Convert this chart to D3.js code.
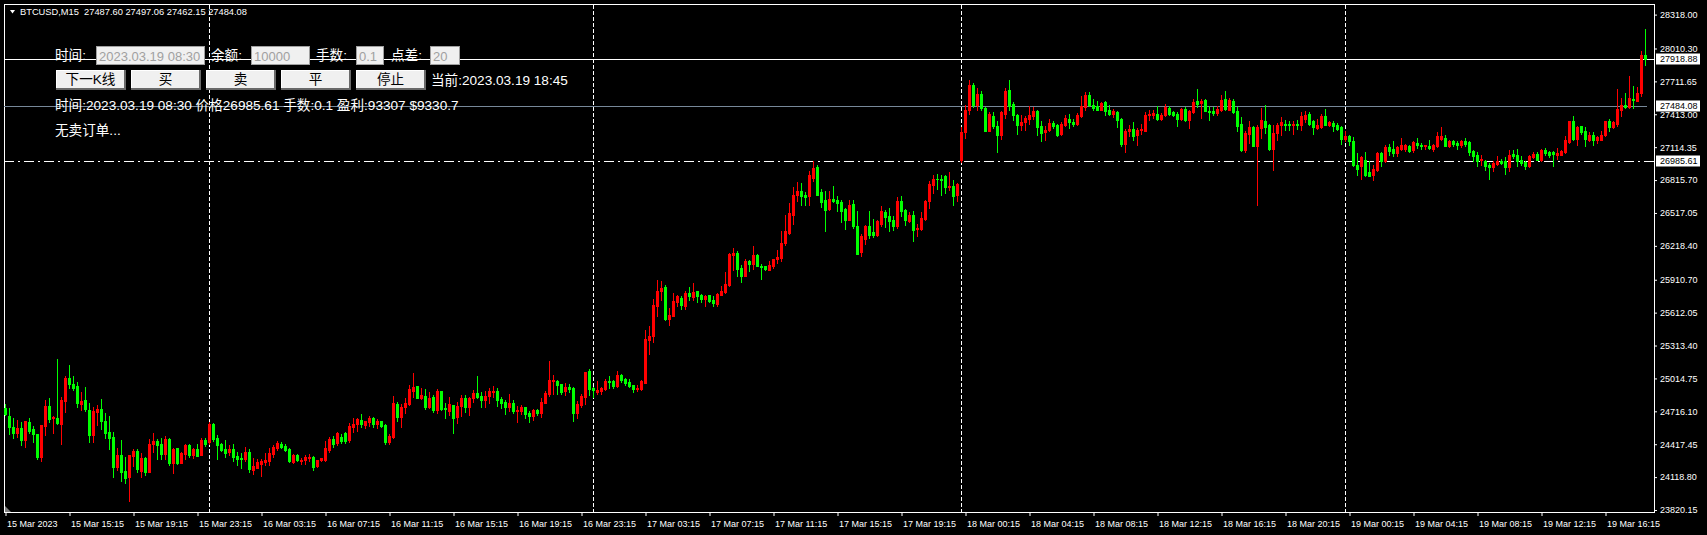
<!DOCTYPE html>
<html><head><meta charset="utf-8">
<script src="https://cdn.jsdelivr.net/npm/d3@7"></script>
<style>html,body{margin:0;padding:0;background:#000;overflow:hidden}svg{display:block}</style>
</head><body><svg id="c" width="1707" height="535"></svg>
<script>
// ---------- DATA ----------
const symbolHeader = "BTCUSD,M15  27487.60 27497.06 27462.15 27484.08";
const openP = [
24750,24674,24574,24523,24568,24456,24620,24556,24511,24305,
24586,24765,24656,24656,24605,24814,25020,24965,24947,24783,
24820,24729,24502,24714,24738,24629,24529,24483,24211,24320,
24175,24123,24311,24356,24178,24290,24168,24423,24447,24420,
24329,24465,24250,24381,24250,24332,24408,24320,24374,24320,
24456,24435,24602,24471,24423,24374,24347,24374,24311,24293,
24287,24347,24187,24202,24238,24253,24265,24329,24384,24420,
24402,24374,24256,24320,24265,24272,24296,24302,24220,24272,
24278,24365,24468,24430,24480,24523,24455,24571,24599,24638,
24592,24623,24656,24602,24626,24592,24440,24486,24783,24668,
24753,24783,24901,24947,24838,24856,24759,24847,24729,24901,
24750,24723,24774,24668,24762,24838,24759,24835,24883,24856,
24820,24856,24895,24904,24829,24804,24759,24795,24723,24723,
24753,24705,24674,24732,24705,24795,24874,24995,24992,24965,
24901,24941,24929,24705,24774,24850,25083,24926,24895,24901,
24920,24995,24995,24950,25047,25007,24986,24956,24917,24920,
24977,25365,25401,25668,25804,25849,25556,25583,25707,25746,
25674,25789,25756,25810,25768,25734,25768,25728,25692,25774,
25798,25865,26137,26155,26019,25949,26077,26058,26137,26037,
26031,26001,26031,26101,26107,26243,26334,26501,26676,26719,
26676,26667,26834,26931,26704,26631,26555,26646,26631,26613,
26552,26455,26600,26401,26167,26280,26401,26340,26319,26419,
26522,26491,26455,26395,26622,26540,26440,26501,26370,26370,
26464,26622,26773,26828,26828,26849,26752,26764,26676,27000,
27250,27450,27680,27500,27600,27470,27264,27400,27309,27228,
27418,27636,27509,27403,27318,27340,27373,27400,27446,27303,
27249,27273,27334,27318,27234,27318,27373,27340,27328,27400,
27476,27591,27500,27485,27455,27521,27455,27418,27431,27373,
27146,27258,27279,27222,27267,27264,27403,27403,27418,27370,
27403,27470,27431,27418,27373,27461,27364,27431,27530,27515,
27540,27446,27440,27425,27449,27555,27455,27537,27440,27328,
27091,27234,27294,27128,27288,27355,27312,27097,27243,27312,
27328,27328,27318,27328,27318,27373,27415,27349,27288,27297,
27400,27312,27334,27318,27297,27188,27212,27173,26955,26940,
27000,26885,26864,26903,27061,26985,27112,27097,27061,27100,
27100,27122,27091,27152,27137,27122,27128,27100,27122,27191,
27197,27128,27167,27152,27137,27167,27158,27076,27046,27000,
26991,26949,26931,26961,26991,26985,26931,27055,27046,27000,
26976,26940,27028,27055,27000,27091,27067,27067,27046,27046,
27067,27161,27355,27191,27303,27258,27182,27228,27176,27182,
27222,27349,27297,27325,27449,27500,27476,27552,27537,27606,
27955];
const highP = [
24783,24750,24656,24638,24617,24632,24656,24583,24514,24595,
24820,24838,24674,25192,24844,25038,25138,25041,24983,24895,
24938,24792,24759,24774,24829,24705,24674,24526,24383,24456,
24299,24323,24374,24371,24338,24302,24465,24520,24462,24471,
24496,24474,24381,24387,24350,24417,24417,24381,24420,24471,
24477,24623,24608,24502,24426,24453,24411,24417,24344,24341,
24393,24371,24290,24285,24287,24341,24381,24411,24447,24435,
24423,24387,24332,24329,24293,24320,24329,24311,24278,24296,
24450,24480,24490,24532,24511,24530,24608,24653,24653,24692,
24632,24674,24668,24644,24632,24602,24508,24856,24804,24780,
24835,24956,25068,24950,24926,24920,24895,24865,24917,24904,
24789,24847,24777,24804,24865,24865,24850,24910,25038,24895,
24901,24932,24947,24929,24850,24820,24871,24820,24765,24774,
24759,24723,24738,24741,24835,24901,25174,25047,25001,24968,
24977,24962,24935,24810,24874,25077,25101,24941,24992,24938,
25010,25038,25001,25083,25059,25017,25010,24959,24956,25001,
25450,25492,25737,25910,25901,25865,25653,25789,25771,25765,
25804,25849,25883,25813,25780,25774,25774,25765,25789,25855,
25983,26152,26198,26173,26046,26098,26092,26219,26146,26052,
26040,26083,26101,26182,26349,26501,26607,26749,26797,26788,
26707,26894,26985,26949,26734,26713,26719,26764,26673,26637,
26558,26637,26637,26531,26328,26410,26531,26464,26449,26582,
26546,26561,26486,26661,26667,26552,26522,26537,26419,26522,
26631,26810,26864,26873,26858,26858,26888,26819,26788,27300,
27500,27720,27700,27650,27620,27480,27431,27434,27349,27440,
27652,27727,27521,27415,27409,27400,27491,27479,27449,27355,
27303,27373,27355,27328,27343,27409,27418,27370,27425,27582,
27612,27615,27555,27537,27521,27530,27500,27464,27440,27379,
27279,27318,27343,27288,27325,27434,27455,27449,27485,27425,
27506,27491,27446,27431,27470,27476,27455,27555,27646,27552,
27552,27485,27476,27491,27591,27627,27561,27552,27479,27385,
27264,27355,27303,27318,27470,27500,27325,27318,27334,27385,
27364,27349,27355,27364,27431,27446,27431,27364,27373,27415,
27464,27355,27355,27334,27309,27258,27228,27203,27061,27031,
27070,26991,26955,27067,27067,27131,27143,27167,27128,27197,
27143,27137,27167,27197,27152,27137,27182,27140,27252,27297,
27228,27182,27182,27167,27182,27197,27167,27091,27067,27046,
27000,26970,26991,27031,27006,27022,27091,27091,27100,27031,
26985,27046,27067,27067,27097,27106,27082,27076,27106,27091,
27212,27355,27394,27309,27309,27297,27249,27252,27212,27264,
27355,27373,27355,27646,27561,27606,27764,27673,27661,27991,
28191];
const lowP = [
24683,24511,24471,24486,24411,24396,24523,24441,24287,24268,
24499,24623,24517,24599,24417,24714,24932,24911,24759,24729,
24720,24441,24441,24592,24556,24471,24374,24123,24184,24087,
24066,23905,24220,24162,24123,24138,24162,24344,24285,24279,
24285,24229,24159,24235,24244,24281,24302,24296,24308,24317,
24405,24417,24447,24285,24356,24305,24320,24265,24229,24205,
24265,24162,24150,24199,24132,24229,24229,24305,24362,24381,
24356,24259,24244,24265,24241,24241,24265,24187,24208,24265,
24265,24350,24390,24410,24425,24430,24440,24532,24541,24571,
24568,24586,24577,24562,24571,24420,24420,24470,24629,24577,
24698,24774,24850,24835,24829,24735,24744,24714,24705,24729,
24659,24683,24523,24608,24674,24714,24683,24804,24841,24759,
24759,24795,24850,24768,24750,24692,24720,24698,24623,24689,
24659,24623,24638,24683,24668,24792,24856,24874,24874,24874,
24865,24895,24632,24659,24759,24783,24865,24850,24874,24871,
24910,24932,24932,24941,24986,24956,24938,24895,24901,24910,
24974,25235,25350,25577,25728,25541,25500,25577,25668,25646,
25646,25728,25728,25707,25713,25668,25707,25668,25674,25768,
25789,25855,25995,25949,25886,25946,25986,26010,26031,25919,
25995,25998,26016,26067,26083,26222,26325,26419,26622,26585,
26585,26591,26804,26676,26567,26355,26546,26616,26531,26431,
26374,26449,26385,26140,26122,26237,26289,26295,26310,26395,
26389,26355,26364,26385,26485,26410,26431,26267,26304,26364,
26455,26561,26697,26737,26682,26697,26722,26591,26622,26976,
27200,27420,27480,27450,27450,27258,27258,27290,27067,27191,
27379,27455,27358,27237,27267,27267,27327,27373,27222,27173,
27179,27258,27288,27219,27228,27303,27288,27303,27318,27388,
27449,27485,27449,27455,27452,27409,27409,27388,27294,27122,
27067,27213,27182,27137,27237,27258,27364,27379,27364,27364,
27394,27409,27394,27309,27358,27349,27288,27425,27479,27379,
27440,27358,27409,27409,27440,27449,27449,27425,27258,27082,
27067,27152,27122,26585,27197,27243,27091,26909,27176,27222,
27273,27273,27237,27282,27273,27343,27318,27237,27282,27288,
27312,27303,27264,27273,27146,27167,27131,26940,26858,26825,
26849,26849,26813,26900,26940,26976,27046,27031,27031,27091,
27082,27067,27067,27106,27097,27097,27097,27082,27112,27182,
27122,27112,27122,27097,27115,27128,27046,26991,26940,26955,
26910,26828,26900,26955,26961,26873,26900,27016,26940,26949,
26919,26931,27016,26994,26985,27046,27022,26940,27006,27040,
27061,27152,27182,27137,27237,27122,27167,27131,27152,27176,
27219,27264,27288,27309,27394,27470,27470,27470,27530,27576,
27864];
const closeP = [
24692,24577,24520,24562,24456,24629,24538,24508,24305,24592,
24765,24650,24665,24608,24820,25020,24968,24929,24795,24811,
24741,24502,24723,24738,24632,24523,24474,24211,24320,24168,
24114,24320,24356,24196,24290,24168,24420,24447,24414,24329,
24468,24250,24374,24244,24341,24411,24317,24374,24314,24456,
24420,24602,24462,24411,24365,24338,24374,24305,24285,24287,
24347,24196,24220,24256,24265,24272,24341,24393,24429,24393,
24368,24265,24323,24272,24272,24305,24302,24214,24272,24290,
24381,24468,24420,24517,24445,24450,24583,24602,24644,24602,
24629,24653,24602,24632,24583,24440,24492,24795,24668,24759,
24795,24920,24935,24841,24865,24759,24841,24729,24901,24735,
24735,24780,24659,24765,24838,24759,24835,24886,24847,24820,
24856,24901,24901,24820,24795,24759,24795,24720,24729,24759,
24692,24674,24729,24701,24804,24886,25001,25004,24956,24892,
24938,24917,24705,24783,24859,25074,24920,24907,24914,24932,
24992,24986,24950,25047,25001,24971,24947,24920,24932,24992,
25374,25404,25683,25810,25840,25553,25592,25719,25759,25677,
25789,25765,25801,25759,25734,25765,25719,25698,25783,25810,
25874,26146,26155,26010,25946,26083,26058,26137,26037,26022,
26007,26046,26098,26113,26243,26349,26516,26682,26719,26667,
26658,26858,26925,26682,26613,26546,26646,26622,26607,26537,
26455,26592,26401,26146,26304,26401,26319,26319,26440,26531,
26476,26446,26395,26622,26531,26449,26501,26358,26385,26470,
26622,26782,26828,26825,26819,26752,26764,26667,26782,27250,
27450,27680,27500,27600,27470,27264,27415,27303,27222,27434,
27627,27485,27403,27318,27340,27379,27409,27446,27294,27243,
27273,27334,27309,27228,27328,27379,27340,27325,27409,27485,
27591,27494,27470,27455,27515,27446,27418,27440,27364,27146,
27258,27279,27219,27273,27279,27409,27415,27425,27370,27409,
27476,27418,27409,27373,27461,27358,27446,27521,27509,27537,
27446,27431,27422,27461,27546,27461,27540,27431,27309,27091,
27243,27294,27128,27294,27364,27297,27097,27243,27318,27340,
27318,27312,27325,27318,27394,27409,27328,27294,27318,27394,
27318,27343,27309,27282,27191,27212,27167,26949,26915,27025,
26858,26855,26915,27061,26985,27112,27082,27061,27112,27131,
27131,27082,27158,27131,27122,27131,27106,27137,27212,27212,
27128,27167,27143,27131,27167,27143,27067,27031,26985,27006,
26940,26931,26970,26991,26970,26931,27046,27031,26985,26970,
26940,27037,27055,27000,27091,27061,27046,27052,27061,27082,
27176,27349,27191,27294,27252,27191,27228,27176,27203,27228,
27349,27297,27340,27464,27500,27479,27561,27540,27606,27955,
27918.88];
const priceTicks = [28318.00,28010.30,27711.65,27413.00,27114.35,26815.70,26517.05,26218.40,
  25910.70,25612.05,25313.40,25014.75,24716.10,24417.45,24118.80,23820.15];
const timeTickIdx = [0,16,32,48,64,80,96,112,128,144,160,176,192,208,224,240,256,272,288,304,320,336,352,368,384,400];
const timeTickLabels = ["15 Mar 2023","15 Mar 15:15","15 Mar 19:15","15 Mar 23:15","16 Mar 03:15","16 Mar 07:15",
  "16 Mar 11:15","16 Mar 15:15","16 Mar 19:15","16 Mar 23:15","17 Mar 03:15","17 Mar 07:15","17 Mar 11:15",
  "17 Mar 15:15","17 Mar 19:15","18 Mar 00:15","18 Mar 04:15","18 Mar 08:15","18 Mar 12:15","18 Mar 16:15",
  "18 Mar 20:15","19 Mar 00:15","19 Mar 04:15","19 Mar 08:15","19 Mar 12:15","19 Mar 16:15"];
const daySeparatorIdx = [51,147,239,335];
const levelLines = [ {price:27918.88, kind:"solid"}, {price:27484.08, kind:"gray"}, {price:26985.61, kind:"dashdot"} ];
const panelRow1 = [ {label:"时间:", value:"2023.03.19 08:30"}, {label:"余额:", value:"10000"}, {label:"手数:", value:"0.1"}, {label:"点差:", value:"20"} ];
const panelButtons = ["下一K线","买","卖","平","停止"];
const currentText = "当前:2023.03.19 18:45";
const orderText = "时间:2023.03.19 08:30 价格26985.61 手数:0.1 盈利:93307 $9330.7";
const statusText = "无卖订单...";

// ---------- LAYOUT ----------
const W = 1707, H = 535;
const P = {l:4, r:1654, t:4, b:512};
const UP = "#ff0000", DOWN = "#00ff00";
const svg = d3.select("#c");
svg.append("rect").attr("width",W).attr("height",H).attr("fill","#000");

const n = Math.min(openP.length, highP.length, lowP.length, closeP.length);
const idx = d3.range(n);
const x = d3.scaleLinear().domain([0, 410]).range([5.5, 5.5 + 4*410]);
const y = d3.scaleLinear().domain([23820.15, 28318.00]).range([510, 14.6]);
const ry = v => Math.round(y(v));

// frame
const frame = svg.append("g").attr("shape-rendering","crispEdges");
frame.append("rect").attr("x",P.l+0.5).attr("y",P.t+0.5).attr("width",P.r-P.l).attr("height",P.b-P.t)
  .attr("fill","none").attr("stroke","#fff");
svg.append("path").attr("d",`M${P.l+1},${P.b-6} L${P.l+1},${P.b} L${P.l+7},${P.b} Z`).attr("fill","#808080");

// day separators
svg.append("g").attr("shape-rendering","crispEdges").selectAll("line").data(daySeparatorIdx).join("line")
  .attr("x1",d=>x(d)).attr("x2",d=>x(d)).attr("y1",P.t+1).attr("y2",P.b)
  .attr("stroke","#fff").attr("stroke-dasharray","4,2");

// level lines
const lv = svg.append("g").attr("shape-rendering","crispEdges");
levelLines.forEach(L=>{
  const yy = ry(L.price)+0.5;
  const ln = lv.append("line").attr("x1",P.l).attr("x2", L.kind==="gray"?1647:P.r).attr("y1",yy).attr("y2",yy);
  if (L.kind==="solid") ln.attr("stroke","#fff");
  else if (L.kind==="gray") ln.attr("stroke","#778899");
  else ln.attr("stroke","#fff").attr("stroke-dasharray","10,4,2,4");
});

// candles
const cg = svg.append("g").attr("shape-rendering","crispEdges");
const col = i => closeP[i] >= openP[i] ? UP : DOWN;
cg.selectAll("rect.w").data(idx).join("rect").attr("class","w")
  .attr("x", i=>x(i)-0.5).attr("width",1)
  .attr("y", i=>ry(highP[i])).attr("height", i=>Math.max(1, ry(lowP[i])-ry(highP[i])+1))
  .attr("fill", col);
cg.selectAll("rect.b").data(idx).join("rect").attr("class","b")
  .attr("x", i=>x(i)-1.5).attr("width",3)
  .attr("y", i=>ry(Math.max(openP[i],closeP[i])))
  .attr("height", i=>Math.max(1, ry(Math.min(openP[i],closeP[i]))-ry(Math.max(openP[i],closeP[i]))+1))
  .attr("fill", col);

// right price axis
const AF = "9px 'Liberation Sans', Arial, sans-serif";
const ay = svg.append("g").attr("transform",`translate(${P.r},0)`)
  .call(d3.axisRight(y).tickValues(priceTicks).tickSize(3).tickPadding(3).tickFormat(d=>d.toFixed(2)));
ay.select(".domain").remove();
ay.selectAll("line").attr("stroke","#fff");
ay.selectAll("text").attr("fill","#fff").style("font",AF);

// bottom time axis
const ax = svg.append("g").attr("transform",`translate(0,${P.b})`)
  .call(d3.axisBottom(x).tickValues(timeTickIdx).tickSize(4).tickPadding(5).tickFormat((d,i)=>timeTickLabels[i]));
ax.select(".domain").remove();
ax.selectAll("line").attr("stroke","#fff");
ax.selectAll("text").attr("fill","#fff").attr("text-anchor","start").attr("x",1).style("font",AF);

// price boxes on axis
const pb = svg.append("g");
levelLines.forEach(L=>{
  const yy = ry(L.price);
  pb.append("rect").attr("x",P.r+2).attr("y",yy-5.5).attr("width",44).attr("height",11).attr("fill","#fff");
  pb.append("text").attr("x",P.r+6).attr("y",yy).attr("dy","0.35em").attr("fill","#000").style("font",AF).text(L.price.toFixed(2));
});

// header
svg.append("path").attr("d","M10,10 L15,10 L12.5,13.5 Z").attr("fill","#fff");
svg.append("text").attr("x",20).attr("y",12).attr("dy","0.35em").attr("fill","#fff")
  .style("font","9.3px 'Liberation Sans', Arial, sans-serif").style("white-space","pre").text(symbolHeader);

// panel
const F = "13.6px 'Liberation Sans', 'Noto Sans CJK SC', sans-serif";
const FB = "13px 'Liberation Sans', 'Noto Sans CJK SC', sans-serif";
const pan = svg.append("g");
const row1Pos = [{lx:55, bx:96, bw:108},{lx:211, bx:251, bw:58},{lx:316, bx:356, bw:27},{lx:391, bx:430, bw:29}];
panelRow1.forEach((r,k)=>{
  const p = row1Pos[k];
  pan.append("text").attr("x",p.lx).attr("y",55).attr("dy","0.35em").attr("fill","#fff").style("font",F).text(r.label);
  pan.append("rect").attr("x",p.bx+0.5).attr("y",46.5).attr("width",p.bw).attr("height",18)
    .attr("fill","#f0f0f0").attr("stroke","#a0a0a0").attr("shape-rendering","crispEdges");
  pan.append("text").attr("x",p.bx+3).attr("y",56).attr("dy","0.35em").attr("fill","#a0a0a0").style("font",FB).text(r.value);
});
panelButtons.forEach((b,k)=>{
  const bx = 56 + k*75, by = 70, bw = 69, bh = 19;
  pan.append("rect").attr("x",bx).attr("y",by).attr("width",bw).attr("height",bh).attr("fill","#f0f0f0").attr("shape-rendering","crispEdges");
  pan.append("path").attr("d",`M${bx+0.5},${by+bh} V${by+0.5} H${bx+bw}`).attr("stroke","#fff").attr("fill","none").attr("shape-rendering","crispEdges");
  pan.append("path").attr("d",`M${bx},${by+bh-0.5} H${bx+bw-0.5} V${by}`).attr("stroke","#696969").attr("stroke-width",2).attr("fill","none").attr("shape-rendering","crispEdges");
  pan.append("text").attr("x",bx+bw/2).attr("y",by+bh/2).attr("dy","0.35em").attr("text-anchor","middle").attr("fill","#000").style("font",F).text(b);
});
pan.append("text").attr("x",431).attr("y",80).attr("dy","0.35em").attr("fill","#fff").style("font",F).text(currentText);
pan.append("text").attr("x",55).attr("y",105).attr("dy","0.35em").attr("fill","#fff").style("font",F).text(orderText);
pan.append("text").attr("x",55).attr("y",130).attr("dy","0.35em").attr("fill","#fff").style("font",F).text(statusText);
</script></body></html>
